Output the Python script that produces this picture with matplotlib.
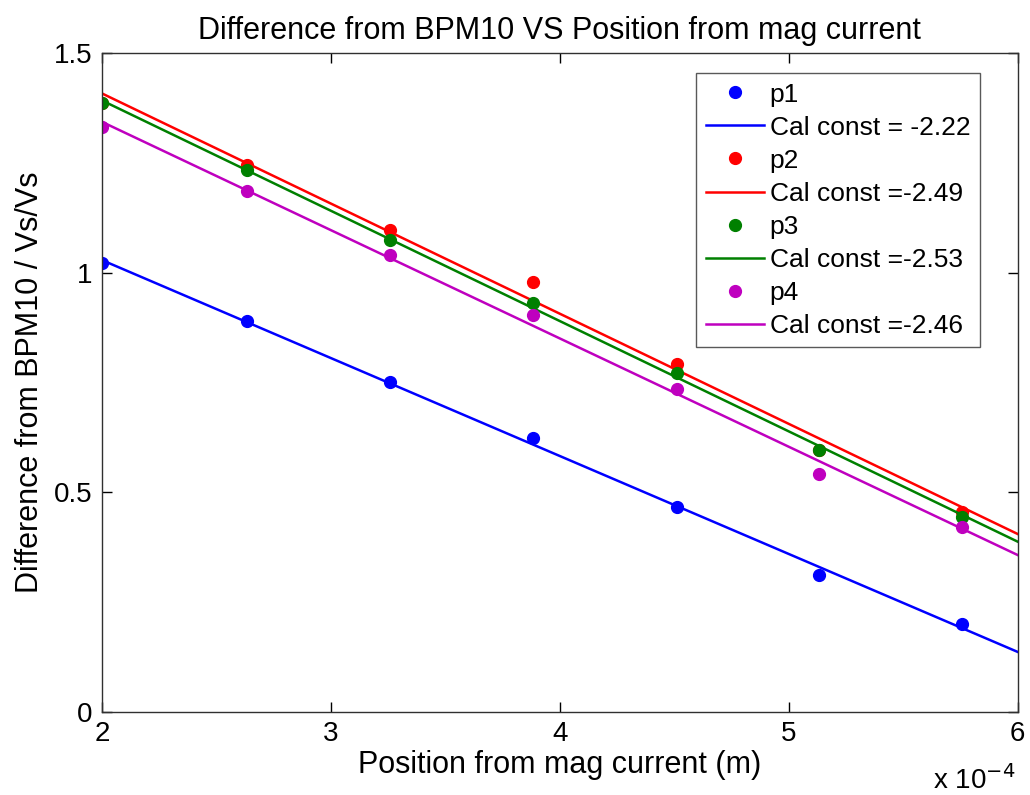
import numpy as np
import matplotlib.pyplot as plt
from matplotlib.ticker import FuncFormatter

plt.rcParams['font.family'] = ['Liberation Sans', 'DejaVu Sans']

# Position from mag current (m)
position = np.array([2.0, 2.633, 3.258, 3.882, 4.511, 5.131, 5.755]) * 1e-4

# Difference from BPM10 (Vs/Vs) for each pickup
p1 = [1.022, 0.889, 0.750, 0.624, 0.466, 0.311, 0.199]
p2 = [1.386, 1.246, 1.098, 0.979, 0.793, 0.597, 0.455]
p3 = [1.386, 1.233, 1.075, 0.931, 0.771, 0.597, 0.444]
p4 = [1.331, 1.185, 1.040, 0.903, 0.734, 0.542, 0.421]

names = ["p1", "p2", "p3", "p4"]
fit_labels = ["Cal const = -2.22", "Cal const =-2.49", "Cal const =-2.53", "Cal const =-2.46"]
colors = ["#0000ff", "#ff0000", "#008000", "#bf00bf"]

fig = plt.figure(figsize=(10.3, 7.95), dpi=100)
ax = fig.add_axes([0.099, 0.105, 0.889, 0.828])

# points plus a straight-line fit for each pickup
x_fit = np.array([2e-4, 6e-4])
for name, lab, c, y in zip(names, fit_labels, colors, [p1, p2, p3, p4]):
    ax.plot(position, y, 'o', color=c, markersize=8.5, label=name)
    k, b = np.polyfit(position, y, 1)
    ax.plot(x_fit, k * x_fit + b, '-', color=c, lw=1.8, label=lab)

ax.set_xlim(2e-4, 6e-4)
ax.set_ylim(0, 1.5)
ax.set_xticks([2e-4, 3e-4, 4e-4, 5e-4, 6e-4])
ax.xaxis.set_major_formatter(FuncFormatter(lambda v, p: f"{v * 1e4:g}"))
ax.set_yticks([0, 0.5, 1, 1.5])
ax.yaxis.set_major_formatter(FuncFormatter(lambda v, p: f"{v:g}"))
ax.tick_params(direction='in', top=True, right=True, length=7, width=1,
               labelsize=20, pad=7)
for s in ax.spines.values():
    s.set_color('#303030')
    s.set_linewidth(1)

ax.set_title("Difference from BPM10 VS Position from mag current", fontsize=22, pad=10)
ax.set_xlabel("Position from mag current (m)", fontsize=22, labelpad=2)
ax.set_ylabel("Difference from BPM10 / Vs/Vs", fontsize=22, labelpad=6)
ax.text(0.997, -0.082, "x 10$^{-4}$", transform=ax.transAxes, fontsize=20,
        ha='right', va='top')

leg = ax.legend(loc='upper right', bbox_to_anchor=(0.9585, 0.9696), borderaxespad=0,
                fontsize=19, frameon=True, fancybox=False,
                handlelength=2.2, handletextpad=0.23, labelspacing=0.345,
                borderpad=0.35, numpoints=1)
leg.get_frame().set_edgecolor('#303030')
leg.get_frame().set_linewidth(1)

fig.savefig("out.png", dpi=100)
